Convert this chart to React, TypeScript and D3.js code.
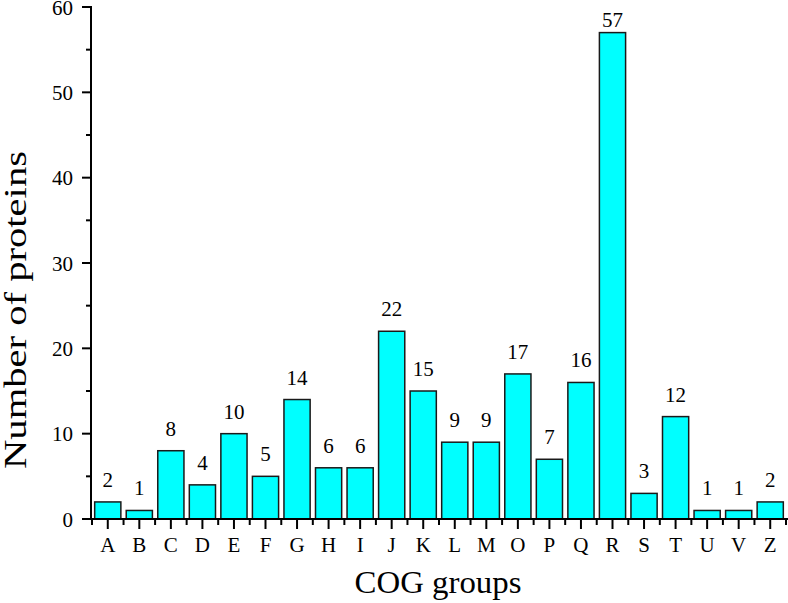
import React from "react";
import * as d3 from "d3";

const categories = ["A","B","C","D","E","F","G","H","I","J","K","L","M","O","P","Q","R","S","T","U","V","Z"];
const counts = [2,1,8,4,10,5,14,6,6,22,15,9,9,17,7,16,57,3,12,1,1,2];
const yTicks = [0,10,20,30,40,50,60];
const yMinorTicks = [5,15,25,35,45,55];

const W = 788, H = 603;
const left = 91, right = 786, top = 7, bottom = 519;
const font = "'Liberation Serif', 'Times New Roman', serif";

export default function App() {
  const x = d3.scaleBand<string>().domain(categories).range([left + 1, right]).paddingInner(0.17).paddingOuter(0.085);
  const y = d3.scaleLinear().domain([0, 60]).range([bottom, top]);
  const step = x.step();
  const bw = x.bandwidth();
  const boundaries = categories.map((c) => (x(c) as number) + bw / 2 - step / 2).concat([(x(categories[categories.length - 1]) as number) + bw / 2 + step / 2]);
  return (
    <svg width={W} height={H} style={{ position: "absolute", left: 0, top: 0, background: "#fff" }}>
      {categories.map((c, i) => (
        <rect key={c} x={x(c)} y={y(counts[i])} width={bw} height={bottom - y(counts[i])}
          fill="#00FFFF" stroke="#1a1a1a" strokeWidth={1.5} />
      ))}
      {categories.map((c, i) => (
        <text key={"l" + c} x={(x(c) as number) + bw / 2} y={Math.max(y(counts[i]) - 15, 27)}
          textAnchor="middle" fontFamily={font} fontSize={21} fill="#000">{counts[i]}</text>
      ))}
      {/* y axis */}
      <line x1={left} x2={left} y1={top - 1} y2={bottom + 1} stroke="#000" strokeWidth={2} />
      {yTicks.map((t) => (
        <g key={"yt" + t}>
          <line x1={left - 9} x2={left} y1={y(t)} y2={y(t)} stroke="#000" strokeWidth={2} />
          <text x={73} y={y(t) + 7.5} textAnchor="end" fontFamily={font} fontSize={21} fill="#000">{t}</text>
        </g>
      ))}
      {yMinorTicks.map((t) => (
        <line key={"ym" + t} x1={left - 5} x2={left} y1={y(t)} y2={y(t)} stroke="#000" strokeWidth={2} />
      ))}
      {/* x axis */}
      <line x1={left - 1} x2={W} y1={bottom} y2={bottom} stroke="#000" strokeWidth={2} />
      {boundaries.map((b, i) => (
        <line key={"xm" + i} x1={b} x2={b} y1={bottom} y2={bottom + 6} stroke="#000" strokeWidth={2} />
      ))}
      {categories.map((c) => (
        <g key={"xt" + c}>
          <line x1={(x(c) as number) + bw / 2} x2={(x(c) as number) + bw / 2} y1={bottom} y2={bottom + 10} stroke="#000" strokeWidth={2} />
          <text x={(x(c) as number) + bw / 2} y={552} textAnchor="middle" fontFamily={font} fontSize={21} fill="#000">{c}</text>
        </g>
      ))}
      <text x={438} y={593} textAnchor="middle" fontFamily={font} fontSize={31} textLength={167} lengthAdjust="spacingAndGlyphs" fill="#000">COG groups</text>
      <text transform="translate(26,310) rotate(-90)" textAnchor="middle" fontFamily={font} fontSize={31} textLength={318} lengthAdjust="spacingAndGlyphs" fill="#000">Number of proteins</text>
    </svg>
  );
}
